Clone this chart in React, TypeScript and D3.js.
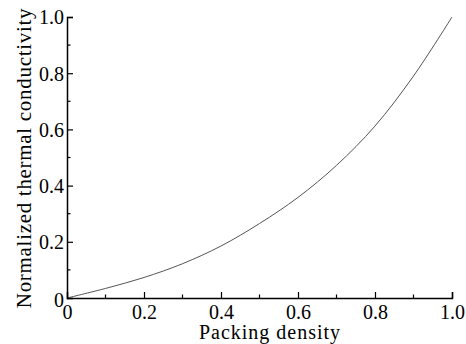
import React from 'react';
import * as d3 from 'd3';

// packing density vs normalized thermal conductivity
const packingDensity = [0, 0.1, 0.2, 0.3, 0.4, 0.5, 0.6, 0.7, 0.8, 0.9, 1.0];
const conductivity = [0, 0.034, 0.073, 0.122, 0.185, 0.265, 0.358, 0.472, 0.612, 0.79, 1.0];
const majorTicks = [0, 0.2, 0.4, 0.6, 0.8, 1.0];
const minorTicks = [0.1, 0.3, 0.5, 0.7, 0.9];
const xTitle = 'Packing density';
const yTitle = 'Normalized thermal conductivity';

const App = () => {
  const ref = React.useRef<SVGSVGElement>(null);

  React.useEffect(() => {
    const svg = d3.select(ref.current);
    svg.selectAll('*').remove();

    const width = 466;
    const height = 344;
    const margin = { top: 17, right: 14, bottom: 46, left: 67 };
    const font = 'Liberation Serif, DejaVu Serif, serif';

    const x = d3.scaleLinear().domain([0, 1]).range([margin.left, width - margin.right]);
    const y = d3.scaleLinear().domain([0, 1]).range([height - margin.bottom, margin.top]);

    const fmt = (d: number) => (d === 0 ? '0' : d3.format('.1f')(d));

    // curve
    const line = d3.line<number>()
      .x((d, i) => x(packingDensity[i]))
      .y(d => y(d))
      .curve(d3.curveCatmullRom.alpha(0.5));

    svg.append('path')
      .datum(conductivity)
      .attr('d', line)
      .attr('fill', 'none')
      .attr('stroke', '#555')
      .attr('stroke-width', 1);

    // x axis (ticks point inward)
    const xAxis = svg.append('g')
      .attr('transform', `translate(0, ${y(0)})`)
      .call(d3.axisBottom(x).tickValues(majorTicks).tickSize(-6).tickFormat(fmt as any));
    xAxis.selectAll('.tick').filter(d => d === 0).select('line').remove();
    xAxis.append('g').selectAll('line')
      .data(minorTicks)
      .enter()
      .append('line')
      .attr('x1', d => x(d))
      .attr('x2', d => x(d))
      .attr('y1', 0)
      .attr('y2', -3.5)
      .attr('stroke', '#000')
      .attr('stroke-width', 1.2);

    // y axis
    const yAxis = svg.append('g')
      .attr('transform', `translate(${x(0)}, 0)`)
      .call(d3.axisLeft(y).tickValues(majorTicks).tickSize(-6).tickFormat(fmt as any));
    yAxis.selectAll('.tick').filter(d => d === 0).select('line').remove();
    yAxis.append('g').selectAll('line')
      .data(minorTicks)
      .enter()
      .append('line')
      .attr('y1', d => y(d))
      .attr('y2', d => y(d))
      .attr('x1', 0)
      .attr('x2', 3.5)
      .attr('stroke', '#000')
      .attr('stroke-width', 1.2);

    [xAxis, yAxis].forEach(g => {
      g.attr('font-family', null).attr('font-size', null);
      g.select('.domain').attr('stroke', '#000').attr('stroke-width', 1.5);
      g.selectAll('.tick line').attr('stroke', '#000').attr('stroke-width', 1.2);
      g.selectAll('.tick text')
        .attr('font-family', font)
        .attr('font-size', 20)
        .attr('fill', '#000');
    });
    xAxis.selectAll('.tick text').attr('y', 7).attr('dy', '0.71em');
    yAxis.selectAll('.tick text').attr('x', -3).attr('dy', '0.34em');
    yAxis.selectAll('.tick').filter(d => d === 0).select('text').attr('dy', '0.4em');

    // axis titles
    svg.append('text')
      .attr('x', 270)
      .attr('y', 339)
      .attr('text-anchor', 'middle')
      .attr('font-family', font)
      .attr('font-size', 20)
      .attr('letter-spacing', 1)
      .attr('fill', '#000')
      .text(xTitle);

    svg.append('text')
      .attr('transform', `translate(31, 158) rotate(-90)`)
      .attr('text-anchor', 'middle')
      .attr('font-family', font)
      .attr('font-size', 21)
      .attr('letter-spacing', 0.7)
      .attr('fill', '#000')
      .text(yTitle);
  }, []);

  return (
    <svg
      ref={ref}
      width={466}
      height={344}
      style={{ position: 'absolute', left: 0, top: 0, background: '#fff' }}
    />
  );
};

export default App;
